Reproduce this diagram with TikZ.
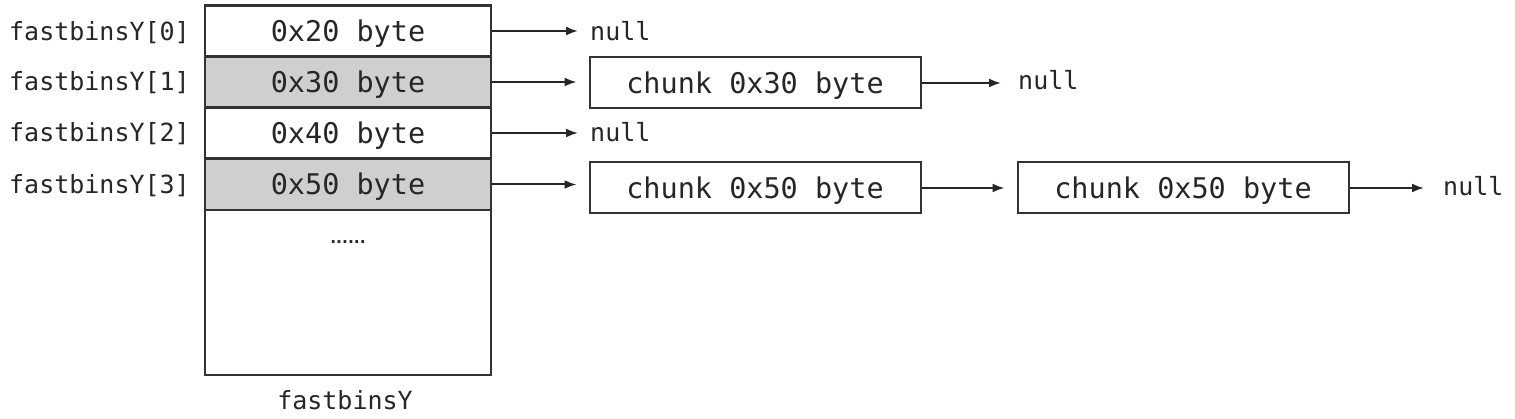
\documentclass[tikz,border=0pt]{standalone}
\usepackage{fontspec}
\setmonofont{DejaVu Sans Mono}
\newfontfamily\dotfont{DejaVu Sans}
\usetikzlibrary{arrows.meta}
\begin{document}
\begin{tikzpicture}[x=1pt,y=-1pt,
  cell/.style={draw=black!80,line width=2.2pt,minimum width=286pt,minimum height=51pt,inner sep=0pt,text height=20.8pt,text depth=0pt,font=\fontsize{28.5}{30}\selectfont\ttfamily,text=black!85},
  grey/.style={fill=black!19},
  chunkbox/.style={draw=black!80,line width=2pt,minimum width=331pt,minimum height=51pt,inner sep=0pt,text height=20.8pt,text depth=0pt,font=\fontsize{28.5}{30}\selectfont\ttfamily,text=black!85},
  lbl/.style={font=\fontsize{25}{27}\selectfont\ttfamily,text=black!85,inner sep=0pt,text height=18.2pt,text depth=0pt},
  link/.style={-{Latex[length=12pt,width=9pt]},line width=2pt,draw=black!85,shorten >=12pt}]
\useasboundingbox (0,0) rectangle (1515,419);
% main column
\node[cell,minimum height=165pt] (rest) at (348,292.5) {};
\node[inner sep=0pt,font=\dotfont\bfseries\fontsize{15.5}{16}\selectfont,text=black!85] (dots) at (348,242) {......};
\node[cell] (r0) at (348,31) {0x20 byte};
\node[cell,grey] (r1) at (348,82) {0x30 byte};
\node[cell] (r2) at (348,133) {0x40 byte};
\node[cell,grey] (r3) at (348,184.5) {0x50 byte};
% labels
\node[lbl,anchor=east] (l0) at (190,31) {fastbinsY[0]};
\node[lbl,anchor=east] (l1) at (190,81) {fastbinsY[1]};
\node[lbl,anchor=east] (l2) at (190,132) {fastbinsY[2]};
\node[lbl,anchor=east] (l3) at (190,184) {fastbinsY[3]};
\node[lbl] (title) at (345,400) {fastbinsY};
% chunks
\node[chunkbox] (c1) at (755,83) {chunk 0x30 byte};
\node[chunkbox] (c3a) at (755,188) {chunk 0x50 byte};
\node[chunkbox] (c3b) at (1183,188) {chunk 0x50 byte};
% nulls
\node[lbl,anchor=west] (n0) at (590,31) {null};
\node[lbl,anchor=west] (n1) at (1018,80) {null};
\node[lbl,anchor=west] (n2) at (590,132) {null};
\node[lbl,anchor=west] (n3) at (1443,186) {null};
% links
\draw[link] (r0.east) -- (r0.east -| n0.west);
\draw[link] (r1.east) -- (r1.east -| c1.west);
\draw[link] (r2.east) -- (r2.east -| n2.west);
\draw[link] (r3.east) -- (r3.east -| c3a.west);
\draw[link,shorten >=17pt] (c1.east) -- (c1.east -| n1.west);
\draw[link] (c3a.east) -- (c3b.west);
\draw[link,shorten >=19pt] (c3b.east) -- (c3b.east -| n3.west);
\end{tikzpicture}
\end{document}
